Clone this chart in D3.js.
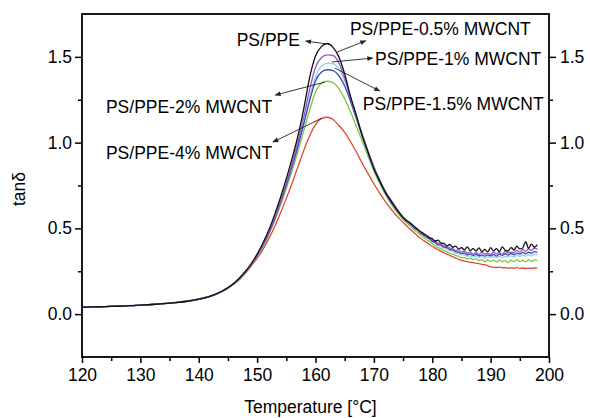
<!DOCTYPE html>
<html>
<head>
<meta charset="utf-8">
<script src="https://cdn.jsdelivr.net/npm/d3@7"></script>
<style>
  body { margin: 0; background: #fff; }
  svg { font-family: "Liberation Sans", Arial, Helvetica, sans-serif; }
</style>
</head>
<body>
<svg id="chart" width="590" height="418"></svg>
<script>
// temperature grid shared by all curves (°C)
const temps = [120,122,124,126,128,130,132,134,136,138,140,142,144,
  145,146,147,148,149,150,151,152,153,154,155,156,157,158,159,160,161,162,163,164,165,166,167,168,169,170,171,172,173,174,
  175,175.5,176,176.5,177,177.5,178,178.5,179,179.5,180,180.5,181,181.5,182,182.5,183,183.5,184,184.5,185,185.5,186,186.5,
  187,187.5,188,188.5,189,189.5,190,190.5,191,191.5,192,192.5,193,193.5,194,194.5,195,195.5,196,196.5,197,197.5,198];

// tan delta
const psPpe = [0.040,0.042,0.044,0.046,0.049,0.052,0.056,0.061,0.067,0.075,0.087,0.105,0.135,
  0.155,0.180,0.212,0.250,0.295,0.350,0.415,0.490,0.580,0.680,0.790,0.910,1.040,1.200,1.380,1.505,1.560,1.578,1.555,1.500,1.400,1.270,1.160,1.040,0.945,0.848,0.778,0.708,0.658,0.606,
  0.565,0.548,0.538,0.522,0.510,0.492,0.482,0.468,0.460,0.445,0.440,0.425,0.432,0.414,0.412,0.398,0.406,0.390,0.397,0.380,0.388,0.374,0.392,0.370,
  0.382,0.368,0.386,0.364,0.377,0.363,0.388,0.369,0.382,0.364,0.392,0.372,0.368,0.388,0.374,0.396,0.380,0.386,0.422,0.384,0.408,0.390,0.405];

const cnt05 = [0.040,0.042,0.044,0.046,0.049,0.052,0.056,0.061,0.067,0.075,0.086,0.104,0.133,
  0.153,0.178,0.209,0.246,0.290,0.342,0.405,0.478,0.563,0.660,0.765,0.880,1.005,1.150,1.310,1.440,1.495,1.512,1.508,1.465,1.375,1.265,1.150,1.050,0.950,0.860,0.782,0.714,0.662,0.612,
  0.565,0.552,0.534,0.526,0.505,0.498,0.478,0.472,0.452,0.448,0.430,0.428,0.412,0.410,0.398,0.395,0.385,0.382,0.372,0.375,0.362,0.366,0.355,0.362,
  0.350,0.358,0.348,0.360,0.350,0.356,0.348,0.362,0.352,0.358,0.350,0.366,0.356,0.362,0.358,0.372,0.362,0.376,0.366,0.380,0.372,0.384,0.380];

const cnt1 = [0.040,0.042,0.044,0.046,0.049,0.052,0.056,0.061,0.067,0.074,0.086,0.103,0.132,
  0.152,0.176,0.207,0.244,0.287,0.338,0.398,0.470,0.553,0.648,0.752,0.865,0.985,1.120,1.265,1.385,1.445,1.462,1.460,1.430,1.360,1.260,1.150,1.050,0.948,0.858,0.780,0.712,0.656,0.608,
  0.562,0.548,0.532,0.520,0.502,0.492,0.474,0.462,0.447,0.437,0.422,0.414,0.400,0.396,0.384,0.380,0.370,0.366,0.356,0.354,0.346,0.344,0.338,0.340,
  0.332,0.336,0.330,0.334,0.328,0.334,0.330,0.336,0.328,0.336,0.330,0.338,0.332,0.340,0.334,0.342,0.336,0.344,0.338,0.346,0.340,0.348,0.345];

const cnt15 = [0.040,0.042,0.044,0.046,0.049,0.052,0.056,0.061,0.067,0.074,0.086,0.103,0.132,
  0.152,0.177,0.208,0.245,0.288,0.340,0.400,0.472,0.555,0.650,0.752,0.862,0.980,1.110,1.245,1.360,1.410,1.425,1.420,1.390,1.330,1.240,1.140,1.040,0.940,0.850,0.772,0.705,0.650,0.602,
  0.560,0.545,0.530,0.518,0.500,0.490,0.472,0.462,0.448,0.440,0.425,0.418,0.405,0.402,0.390,0.388,0.376,0.374,0.365,0.362,0.354,0.356,0.346,0.350,
  0.342,0.348,0.340,0.346,0.338,0.346,0.340,0.348,0.338,0.350,0.342,0.352,0.344,0.354,0.346,0.356,0.350,0.360,0.352,0.362,0.355,0.365,0.360];

const cnt2 = [0.040,0.042,0.044,0.046,0.049,0.052,0.056,0.061,0.067,0.075,0.086,0.103,0.131,
  0.150,0.175,0.205,0.242,0.285,0.335,0.394,0.463,0.543,0.633,0.732,0.838,0.950,1.070,1.190,1.295,1.345,1.358,1.350,1.315,1.255,1.180,1.095,1.010,0.920,0.835,0.760,0.695,0.640,0.592,
  0.552,0.536,0.520,0.505,0.488,0.476,0.460,0.448,0.434,0.424,0.410,0.400,0.388,0.382,0.370,0.364,0.354,0.350,0.342,0.338,0.330,0.330,0.322,0.326,
  0.318,0.322,0.312,0.318,0.306,0.316,0.308,0.314,0.304,0.316,0.306,0.312,0.300,0.314,0.306,0.318,0.306,0.314,0.304,0.318,0.308,0.316,0.312];

const cnt4 = [0.040,0.042,0.044,0.046,0.049,0.053,0.057,0.062,0.068,0.077,0.089,0.106,0.133,
  0.151,0.174,0.202,0.238,0.280,0.325,0.378,0.440,0.510,0.590,0.675,0.765,0.860,0.955,1.040,1.105,1.140,1.148,1.135,1.100,1.060,1.005,0.945,0.880,0.820,0.760,0.705,0.655,0.610,0.570,
  0.535,0.518,0.502,0.486,0.472,0.456,0.442,0.430,0.418,0.406,0.396,0.385,0.376,0.366,0.358,0.350,0.342,0.334,0.327,0.320,0.314,0.310,0.306,0.302,
  0.300,0.296,0.295,0.290,0.288,0.282,0.276,0.274,0.272,0.274,0.270,0.271,0.268,0.270,0.268,0.271,0.267,0.269,0.266,0.268,0.267,0.269,0.268];

const seriesNames = ["PS/PPE-4% MWCNT", "PS/PPE-2% MWCNT", "PS/PPE-1% MWCNT", "PS/PPE-1.5% MWCNT", "PS/PPE-0.5% MWCNT", "PS/PPE"];
const seriesValues = [cnt4, cnt2, cnt1, cnt15, cnt05, psPpe];
const seriesColors = ["#e4482e", "#7ac843", "#92d3e6", "#3a48b8", "#9b55c6", "#111111"];

const xTicks = [120,130,140,150,160,170,180,190,200];
const xMinor = [125,135,145,155,165,175,185,195];
const yTicks = [0, 0.5, 1.0, 1.5];
const yMinor = [0.25, 0.75, 1.25];

// annotation: label, text anchor point [T, tan d], arrow from [T, v] to [T, v]
const notes = [
  { text: "PS/PPE",            at: [146.5, 1.563], from: [162.3, 1.574], to: [158.3, 1.592] },
  { text: "PS/PPE-0.5% MWCNT", at: [165.9, 1.627], from: [163.7, 1.528], to: [168.6, 1.594] },
  { text: "PS/PPE-1% MWCNT",   at: [170.2, 1.452], from: [162.8, 1.470], to: [169.8, 1.493] },
  { text: "PS/PPE-1.5% MWCNT", at: [168.1, 1.190], from: [163.3, 1.435], to: [171.0, 1.301] },
  { text: "PS/PPE-2% MWCNT",   at: [124.1, 1.172], from: [161.6, 1.353], to: [153.1, 1.277] },
  { text: "PS/PPE-4% MWCNT",   at: [124.1, 0.904], from: [161.1, 1.143], to: [152.7, 1.003] }
];

const svg = d3.select("#chart");
const plotLeft = 82, plotRight = 549, plotTop = 14, plotBottom = 357;

const xScale = d3.scaleLinear().domain([120, 200]).range([plotLeft, plotRight]);
const yScale = d3.scaleLinear().domain([-0.25, 1.75]).range([plotBottom, plotTop]);

const fontSize = 17.5;

// curves
const line = d3.line()
  .x((d) => xScale(d[0]))
  .y((d) => yScale(d[1]))
  .curve(d3.curveMonotoneX);

svg.append("g")
  .selectAll("path")
  .data(seriesValues)
  .join("path")
  .attr("d", (vals) => line(temps.map((t, i) => [t, vals[i]])))
  .attr("fill", "none")
  .attr("stroke", (d, i) => seriesColors[i])
  .attr("stroke-width", 1.3)
  .attr("stroke-linejoin", "round");

// axes
function styleAxis(g) {
  g.select(".domain").remove();
  g.selectAll(".tick line").attr("stroke", "#000").attr("stroke-width", 1.5);
  g.selectAll(".tick text").attr("fill", "#000").attr("font-size", fontSize)
    .attr("font-family", "Liberation Sans, Arial, sans-serif");
}

svg.append("g")
  .attr("transform", `translate(0,${plotBottom})`)
  .call(d3.axisBottom(xScale).tickValues(xTicks).tickFormat(d3.format("d")).tickSize(6).tickPadding(6))
  .call(styleAxis);
svg.append("g")
  .attr("transform", `translate(0,${plotBottom})`)
  .call(d3.axisBottom(xScale).tickValues(xMinor).tickFormat("").tickSize(4))
  .call(styleAxis);

svg.append("g")
  .attr("transform", `translate(${plotLeft},0)`)
  .call(d3.axisLeft(yScale).tickValues(yTicks).tickFormat(d3.format(".1f")).tickSize(7).tickPadding(3))
  .call(styleAxis);
svg.append("g")
  .attr("transform", `translate(${plotLeft},0)`)
  .call(d3.axisLeft(yScale).tickValues(yMinor).tickFormat("").tickSize(4))
  .call(styleAxis);

svg.append("g")
  .attr("transform", `translate(${plotRight},0)`)
  .call(d3.axisRight(yScale).tickValues(yTicks).tickFormat(d3.format(".1f")).tickSize(7).tickPadding(4))
  .call(styleAxis);
svg.append("g")
  .attr("transform", `translate(${plotRight},0)`)
  .call(d3.axisRight(yScale).tickValues(yMinor).tickFormat("").tickSize(4))
  .call(styleAxis);

// frame
svg.append("rect")
  .attr("x", plotLeft).attr("y", plotTop)
  .attr("width", plotRight - plotLeft).attr("height", plotBottom - plotTop)
  .attr("fill", "none").attr("stroke", "#000").attr("stroke-width", 1.8);

// axis titles
svg.append("text")
  .attr("x", (plotLeft + plotRight) / 2 - 5).attr("y", 413)
  .attr("text-anchor", "middle").attr("font-size", fontSize)
  .text("Temperature [°C]");

svg.append("text")
  .attr("transform", "translate(25,189) rotate(-90)")
  .attr("text-anchor", "middle").attr("font-size", fontSize)
  .text("tanδ");

// arrowheads
svg.append("defs").append("marker")
  .attr("id", "head")
  .attr("viewBox", "0 0 10 10")
  .attr("refX", 9).attr("refY", 5)
  .attr("markerWidth", 8).attr("markerHeight", 6)
  .attr("markerUnits", "userSpaceOnUse")
  .attr("orient", "auto")
  .append("path")
  .attr("d", "M0,1 L10,5 L0,9 Z")
  .attr("fill", "#222");

const ann = svg.append("g");
ann.selectAll("line")
  .data(notes)
  .join("line")
  .attr("x1", (d) => xScale(d.from[0])).attr("y1", (d) => yScale(d.from[1]))
  .attr("x2", (d) => xScale(d.to[0])).attr("y2", (d) => yScale(d.to[1]))
  .attr("stroke", "#222").attr("stroke-width", 0.9)
  .attr("marker-end", "url(#head)");

ann.selectAll("text")
  .data(notes)
  .join("text")
  .attr("x", (d) => xScale(d.at[0])).attr("y", (d) => yScale(d.at[1]))
  .attr("font-size", fontSize)
  .text((d) => d.text);
</script>
</body>
</html>
